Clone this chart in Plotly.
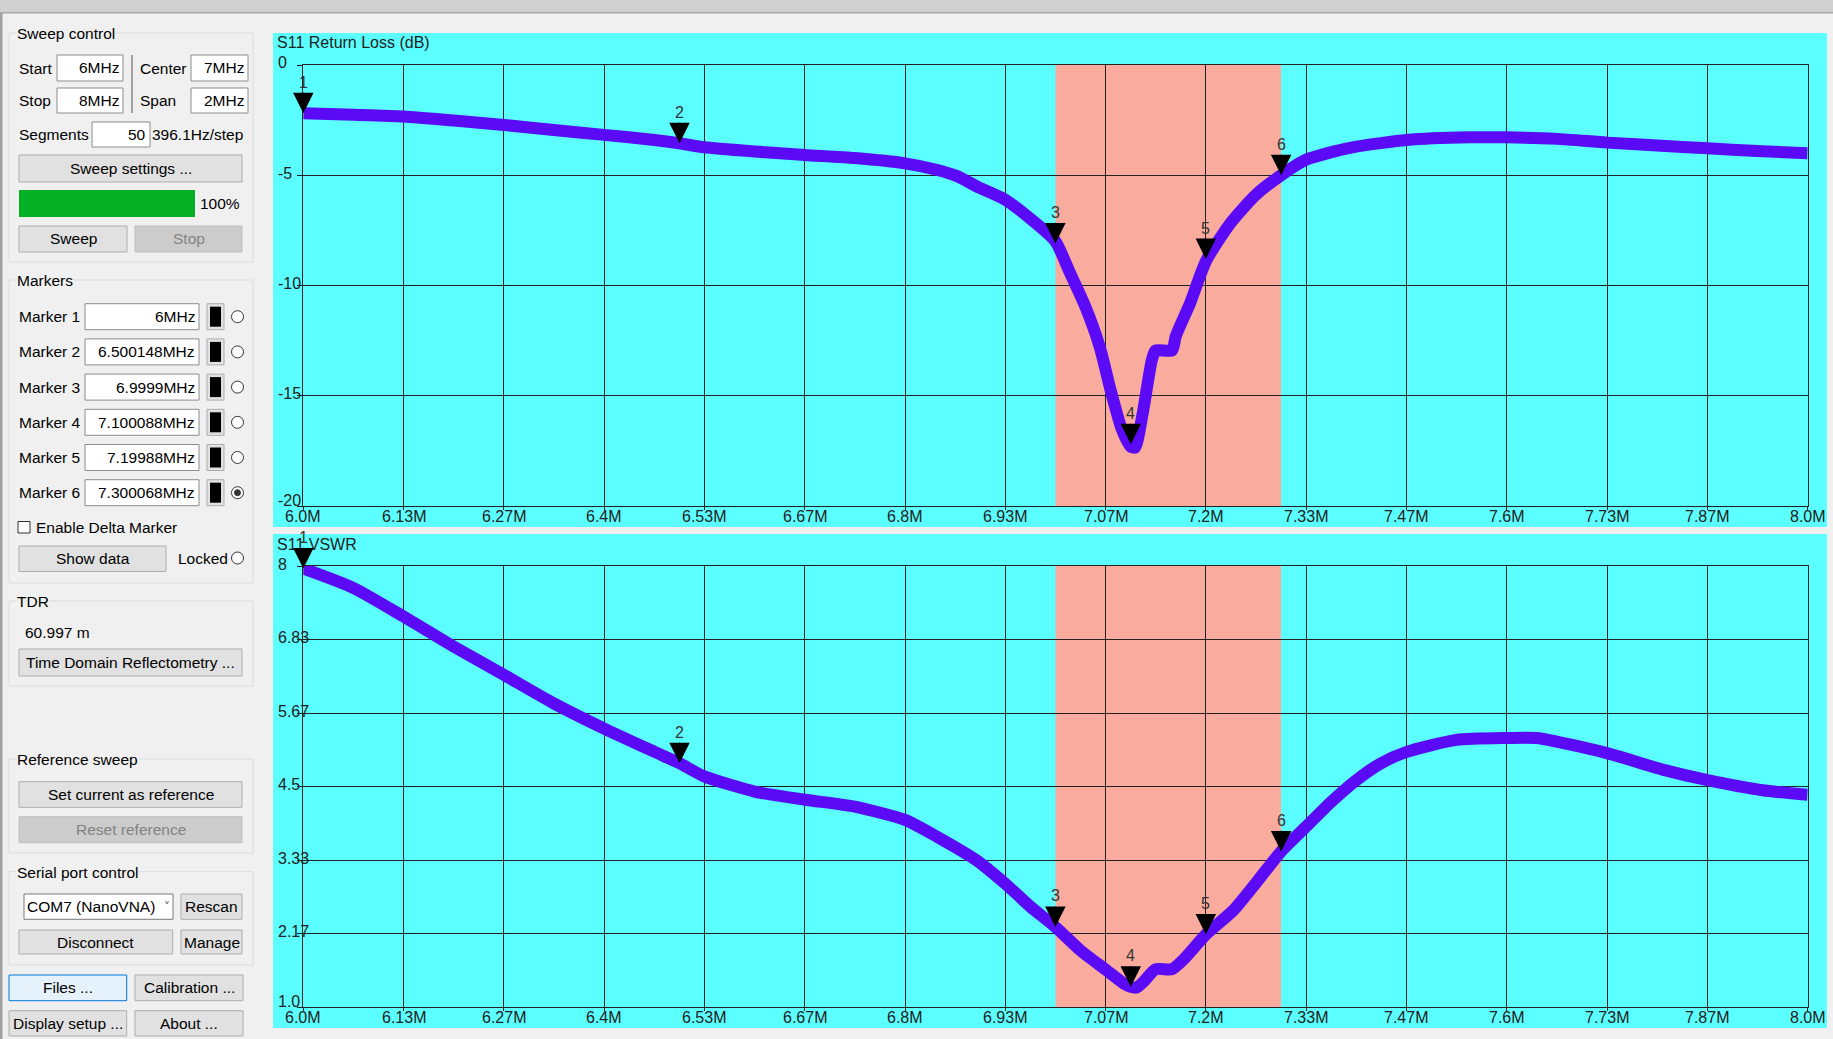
import plotly.graph_objects as go

W, H = 1833, 1039

# ---- data ----
freq_rl = [6.000, 6.067, 6.133, 6.200, 6.267, 6.333, 6.400, 6.467, 6.500, 6.533,
           6.600, 6.667, 6.733, 6.800, 6.843, 6.870, 6.895, 6.933, 6.973, 7.000,
           7.019, 7.039, 7.059, 7.073, 7.088, 7.100, 7.106, 7.116, 7.128, 7.133,
           7.155, 7.160, 7.179, 7.200, 7.232, 7.266, 7.300, 7.333, 7.367, 7.400,
           7.467, 7.550, 7.600, 7.667, 7.733, 7.800, 7.867, 7.933, 8.000]
rl_db = [-2.19, -2.26, -2.34, -2.52, -2.72, -2.95, -3.17, -3.40, -3.55, -3.73,
         -3.92, -4.08, -4.22, -4.46, -4.76, -5.05, -5.50, -6.10, -7.15, -8.00,
         -9.40, -10.9, -12.8, -14.7, -16.5, -17.3, -17.35, -15.8, -13.4, -12.95,
         -12.95, -12.3, -10.8, -8.9, -7.2, -5.9, -5.0, -4.3, -3.95, -3.70,
         -3.40, -3.28, -3.28, -3.35, -3.52, -3.65, -3.78, -3.90, -4.00]

freq_vswr = [6.000, 6.067, 6.133, 6.200, 6.267, 6.333, 6.400, 6.467, 6.500, 6.533,
             6.600, 6.667, 6.733, 6.800, 6.843, 6.895, 6.933, 6.967, 7.000, 7.033,
             7.067, 7.090, 7.100, 7.108, 7.117, 7.133, 7.155, 7.170, 7.200, 7.237,
             7.270, 7.300, 7.333, 7.367, 7.400, 7.433, 7.467, 7.533, 7.600, 7.640,
             7.733, 7.810, 7.867, 7.940, 8.000]
vswr = [7.96, 7.65, 7.20, 6.72, 6.27, 5.82, 5.42, 5.05, 4.87, 4.66,
        4.42, 4.29, 4.18, 3.97, 3.70, 3.33, 2.96, 2.59, 2.27, 1.90,
        1.59, 1.38, 1.32, 1.31, 1.40, 1.60, 1.60, 1.75, 2.15, 2.54,
        3.02, 3.47, 3.86, 4.26, 4.60, 4.87, 5.05, 5.24, 5.27, 5.27,
        5.03, 4.76, 4.60, 4.44, 4.37]

marker_names = ["1", "2", "3", "4", "5", "6"]
marker_freq = [6.0, 6.500148, 6.9999, 7.100088, 7.19988, 7.300068]
marker_rl = [-2.19, -3.55, -8.1, -17.2, -8.8, -5.0]
marker_vswr = [7.96, 4.87, 2.27, 1.32, 2.15, 3.47]
marker_text = ["6MHz", "6.500148MHz", "6.9999MHz", "7.100088MHz", "7.19988MHz", "7.300068MHz"]

band_40m = [7.0, 7.3]

x_tick_vals = [6.0, 6.1333, 6.2667, 6.4, 6.5333, 6.6667, 6.8, 6.9333,
               7.0667, 7.2, 7.3333, 7.4667, 7.6, 7.7333, 7.8667, 8.0]
x_tick_text = ["6.0M", "6.13M", "6.27M", "6.4M", "6.53M", "6.67M", "6.8M", "6.93M",
               "7.07M", "7.2M", "7.33M", "7.47M", "7.6M", "7.73M", "7.87M", "8.0M"]
rl_tick_vals = [0, -5, -10, -15, -20]
rl_tick_text = ["0", "-5", "-10", "-15", "-20"]
vswr_tick_vals = [8.0, 6.8333, 5.6667, 4.5, 3.3333, 2.1667, 1.0]
vswr_tick_text = ["8", "6.83", "5.67", "4.5", "3.33", "2.17", "1.0"]

CYAN = "#5BFFFF"
PINK = "#F9AC9E"
TRACE = "#5A0AF5"
GRID = "#222222"
BG = "#F0F0F0"
FONT = "Liberation Sans, Arial, sans-serif"

shapes = []
annotations = []


def fx(x):
    return x / W


def fy(y):
    return 1 - y / H


def rect(x0, y0, x1, y1, fill, line=None, lw=1):
    shapes.append(dict(type="rect", xref="paper", yref="paper",
                       x0=fx(x0), x1=fx(x1), y0=fy(y1), y1=fy(y0),
                       fillcolor=fill,
                       line=dict(color=line if line else "rgba(0,0,0,0)", width=lw if line else 0),
                       layer="below"))


def circle(cx, cy, r, fill, line=None):
    shapes.append(dict(type="circle", xref="paper", yref="paper",
                       x0=fx(cx - r), x1=fx(cx + r), y0=fy(cy + r), y1=fy(cy - r),
                       fillcolor=fill,
                       line=dict(color=line if line else fill, width=1),
                       layer="below"))


def text(x, y, s, anchor="left", color="#000000", size=15.5, bg=None, family=FONT):
    annotations.append(dict(xref="paper", yref="paper", x=fx(x), y=fy(y), text=s,
                            showarrow=False, xanchor=anchor, yanchor="middle",
                            font=dict(family=family, size=size, color=color),
                            bgcolor=bg, borderpad=0))


def button(x0, y0, x1, y1, label, disabled=False, fill="#E1E1E1", border="#ADADAD"):
    if disabled:
        fill, border = "#CCCCCC", "#BFBFBF"
    rect(x0, y0, x1, y1, fill, border)
    text((x0 + x1) / 2, (y0 + y1) / 2, label, anchor="center",
         color="#838383" if disabled else "#000000")


def field(x0, y0, x1, y1, value):
    rect(x0, y0, x1, y1, "#FFFFFF", "#8C8C8C")
    text(x1 - 3, (y0 + y1) / 2, value, anchor="right")


def group(x0, y0, x1, y1, title):
    rect(x0, y0, x1, y1, "rgba(0,0,0,0)", "#DCDCDC")
    text(x0 + 7, y0 + 0.5, title, bg=BG)


# ---- window chrome ----
rect(0, 0, W, 12, "#D0D0D0")
rect(0, 12, W, 13.5, "#A8A8A8")
rect(0, 13, 2.5, H, "#A0A0A0")

# ---- left control panel ----
group(9, 33, 253, 262, "Sweep control")
text(18, 69, "Start")
field(57, 55, 123, 81, "6MHz")
text(18, 101, "Stop")
field(57, 88, 123, 113, "8MHz")
rect(131.5, 55, 132.5, 113, "#555555")
text(139, 69, "Center")
field(191, 55, 248, 81, "7MHz")
text(139, 101, "Span")
field(191, 88, 248, 113, "2MHz")
text(18, 135, "Segments")
field(92, 122, 150, 147, "50")
text(151, 135, "396.1Hz/step")
button(19, 155, 242, 182, "Sweep settings ...")
rect(19, 190, 195, 217, "#06B025")
text(199, 204, "100%")
button(19, 226, 127, 252, "Sweep")
button(135, 226, 242, 252, "Stop", disabled=True)

group(9, 280, 253, 583, "Markers")
for i, name in enumerate(marker_names):
    cy = 316.7 + 35.2 * i
    text(18, cy, "Marker " + name)
    field(85, cy - 13, 199, cy + 13, marker_text[i])
    rect(207, cy - 13, 224, cy + 13, "#E1E1E1", "#ADADAD")
    rect(210, cy - 10, 221, cy + 10, "#000000")
    circle(237.5, cy, 6, "#FFFFFF", "#333333")
    if i == len(marker_names) - 1:
        circle(237.5, cy, 3, "#333333")
rect(18, 521.5, 30, 533, "#FFFFFF", "#333333")
text(35, 527, "Enable Delta Marker")
button(19, 546, 166, 571.5, "Show data")
text(177, 558, "Locked")
circle(237.5, 558, 6, "#FFFFFF", "#333333")

group(9, 601, 253, 686, "TDR")
text(24, 632, "60.997 m")
button(19, 649, 242, 676, "Time Domain Reflectometry ...")

group(9, 759, 253, 853, "Reference sweep")
button(19, 781.7, 242, 807.3, "Set current as reference")
button(19, 816.7, 242, 842.7, "Reset reference", disabled=True)

group(9, 871.7, 253, 965, "Serial port control")
rect(24, 894, 173, 919.3, "#FFFFFF", "#7A7A7A")
text(26, 906.7, "COM7 (NanoVNA)")
text(167, 906.7, "\u02c5", anchor="center", color="#555555", size=12, family="DejaVu Sans")
button(181, 894, 242, 919.3, "Rescan")
button(19, 930, 172.7, 954, "Disconnect")
button(181, 930, 242, 954, "Manage")
button(9, 975, 126.7, 1000.7, "Files ...", fill="#E5F1FB", border="#0078D7")
button(135, 975, 243, 1000.7, "Calibration ...")
button(9, 1010.7, 126.7, 1036, "Display setup ...")
button(135, 1010.7, 243, 1036, "About ...")

# ---- chart panels ----
rect(273, 33, 1827, 527, CYAN)
rect(273, 534, 1827, 1028, CYAN)
text(276, 43, "S11 Return Loss (dB)", color="#222222", size=16)
text(276, 544, "S11 VSWR", color="#222222", size=16)

x_dom = [fx(303.3), fx(1807.6)]
top_dom = [fy(506), fy(65)]
bot_dom = [fy(1007), fy(566)]

fig = go.Figure()
fig.add_trace(go.Scatter(x=freq_rl, y=rl_db, mode="lines", xaxis="x", yaxis="y",
                         line=dict(color=TRACE, width=12, shape="spline", smoothing=0.6),
                         hoverinfo="skip", showlegend=False))
fig.add_trace(go.Scatter(x=freq_vswr, y=vswr, mode="lines", xaxis="x2", yaxis="y2",
                         line=dict(color=TRACE, width=12, shape="spline", smoothing=0.6),
                         hoverinfo="skip", showlegend=False))

# 40m band highlight
for xr, yr in (("x", "y"), ("x2", "y2")):
    shapes.append(dict(type="rect", xref=xr, yref=yr + " domain",
                       x0=band_40m[0], x1=band_40m[1], y0=0, y1=1,
                       fillcolor=PINK, line=dict(width=0), layer="below"))

# markers: black triangle pointing at the trace, number above
for xr, yr, vals in (("x", "y", marker_rl), ("x2", "y2", marker_vswr)):
    for name, f, v in zip(marker_names, marker_freq, vals):
        annotations.append(dict(x=f, y=v, xref=xr, yref=yr, text=name,
                                showarrow=True, arrowhead=2, arrowsize=8.2, arrowwidth=0.5,
                                arrowcolor="#000000", ax=0, ay=-31, standoff=0,
                                font=dict(family=FONT, size=16, color="#333333")))

# y tick labels, left aligned inside the panel
for yr, vals, labels in (("y", rl_tick_vals, rl_tick_text), ("y2", vswr_tick_vals, vswr_tick_text)):
    for k, (v, lab) in enumerate(zip(vals, labels)):
        annotations.append(dict(x=fx(277), y=v, xref="paper", yref=yr, text=lab,
                                showarrow=False, xanchor="left", yanchor="middle",
                                yshift=6 if k == len(vals) - 1 else 2, borderpad=0,
                                font=dict(family=FONT, size=16, color="#222222")))

# x tick labels just under the plot area
for xr, yr in (("x", "y"), ("x2", "y2")):
    for v, lab in zip(x_tick_vals, x_tick_text):
        annotations.append(dict(x=v, y=0, xref=xr, yref=yr + " domain", text=lab,
                                showarrow=False, xanchor="center", yanchor="middle",
                                yshift=-10, borderpad=0,
                                font=dict(family=FONT, size=16, color="#222222")))

xax = dict(domain=x_dom, range=[6.0, 8.0], tickmode="array", tickvals=x_tick_vals,
           showticklabels=False, showgrid=True, gridcolor=GRID, gridwidth=1,
           zeroline=False, showline=True, linecolor=GRID, linewidth=1, mirror=True,
           ticks="outside", ticklen=3, tickcolor=GRID, fixedrange=True)
yax = dict(tickmode="array", showgrid=True, gridcolor=GRID, gridwidth=1,
           zeroline=False, showline=True, linecolor=GRID, linewidth=1, mirror=True,
           ticks="outside", ticklen=5, tickcolor=GRID, showticklabels=False, fixedrange=True)

fig.update_layout(
    width=W, height=H, autosize=False,
    margin=dict(l=0, r=0, t=0, b=0),
    paper_bgcolor=BG, plot_bgcolor=CYAN,
    showlegend=False,
    xaxis=dict(xax, anchor="y"),
    yaxis=dict(yax, domain=top_dom, range=[-20, 0], tickvals=rl_tick_vals, anchor="x"),
    xaxis2=dict(xax, anchor="y2"),
    yaxis2=dict(yax, domain=bot_dom, range=[1.0, 8.0], tickvals=vswr_tick_vals, anchor="x2"),
    shapes=shapes,
    annotations=annotations,
)

fig.write_html("out.html", config={"displayModeBar": False},
               post_script="document.body.style.margin='0';document.body.style.overflow='hidden';")
